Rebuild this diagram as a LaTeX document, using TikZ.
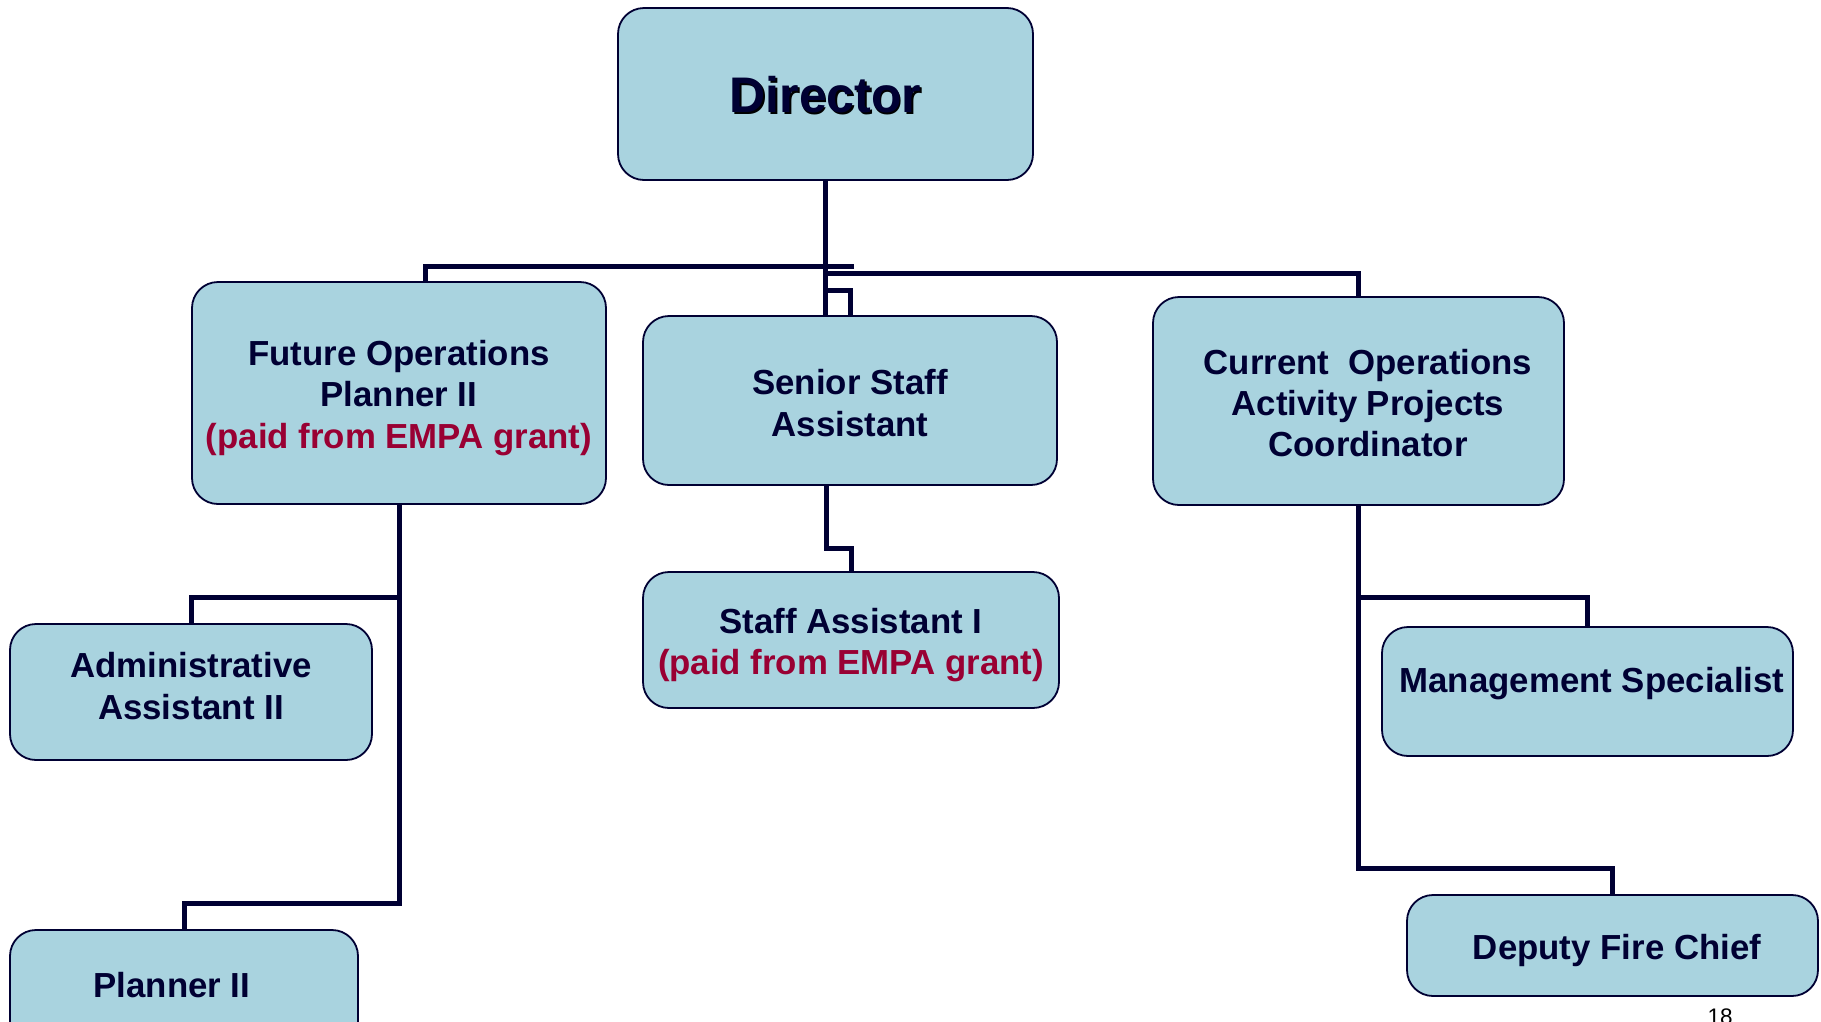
\documentclass[tikz,border=0pt]{standalone}
\usepackage{fontspec}
\setmainfont{Liberation Sans}
\definecolor{boxfill}{RGB}{169,211,223}
\definecolor{navy}{RGB}{0,0,51}
\definecolor{grantred}{RGB}{153,0,51}
\begin{document}
\begin{tikzpicture}[x=1pt,y=-1pt,
  box/.style={draw=navy, line width=1.8pt, fill=boxfill, rounded corners=26pt, inner sep=0pt},
  lbl/.style={align=center, text=navy, inner sep=0pt,
    font=\fontsize{34.8}{41.2}\selectfont\bfseries},
  conn/.style={draw=navy, line width=5pt}]
\useasboundingbox (0,0) rectangle (1821,1021);
\fill[white] (0,0) rectangle (1821,1021);
% boxes
\node[box, minimum width=415pt, minimum height=172pt] (dir) at (825.5,94) {};
\node[box, minimum width=414pt, minimum height=222pt] (fut) at (399,393) {};
\node[box, minimum width=414pt, minimum height=169pt] (sen) at (850,400.5) {};
\node[box, minimum width=411pt, minimum height=208pt] (cur) at (1358.5,401) {};
\node[box, minimum width=362pt, minimum height=136pt] (adm) at (191,692) {};
\node[box, minimum width=348pt, minimum height=120pt] (pla) at (184,990) {};
\node[box, minimum width=416pt, minimum height=136pt] (sta) at (851,640) {};
\node[box, minimum width=411pt, minimum height=129pt] (mgt) at (1587.5,691.5) {};
\node[box, minimum width=411pt, minimum height=101pt] (dep) at (1612.5,945.5) {};
% labels
\node[lbl, text=black, font=\fontsize{50}{56}\selectfont\bfseries] (dirs) at (827,96.5) {Director};
\node[lbl, font=\fontsize{50}{56}\selectfont\bfseries] (dirt) at (825.5,95) {Director};
\node[lbl] (futt) at (399,398) {Future Operations\\Planner II\\\textcolor{grantred}{(paid from EMPA grant)}};
\node[lbl] (sent) at (850,403) {Senior Staff\\Assistant};
\node[lbl] (curt) at (1368,403) {Current\ \ Operations\\Activity Projects\\Coordinator};
\node[lbl] (admt) at (191,686) {Administrative\\Assistant II};
\node[lbl] (plat) at (172,985) {Planner II};
\node[lbl] (stat) at (851,645) {Staff Assistant I\\\textcolor{grantred}{(paid from EMPA grant)}};
\node[lbl] (mgtt) at (1592,684) {Management Specialist};
\node[lbl] (dept) at (1617,950) {Deputy Fire Chief};
\node[anchor=base, font=\fontsize{22.5}{26}\selectfont, inner sep=0pt] (pg) at (1720,1024) {18};
% connectors
\coordinate (lstub) at (854,266);
\draw[conn] (dir.south) -- (dir.south |- sen.north);
\draw[conn] (lstub) -| ([xshift=26pt]fut.north);
\draw[conn] ([yshift=-93pt]dir.south) -| (cur.north);
\draw[conn] ([yshift=-110pt]dir.south) -| (sen.north);
\draw[conn] ([xshift=-24pt]sen.south) -- ++(0pt,-63pt) -| (sta.north);
\draw[conn] (fut.south) -- ([yshift=26pt]pla.north -| fut.south) -| (pla.north);
\draw[conn] ([yshift=26pt]adm.north -| fut.south) -| (adm.north);
\draw[conn] (cur.south) -- ([yshift=26pt]dep.north -| cur.south) -| (dep.north);
\draw[conn] ([yshift=29pt]mgt.north -| cur.south) -| (mgt.north);
\end{tikzpicture}
\end{document}
